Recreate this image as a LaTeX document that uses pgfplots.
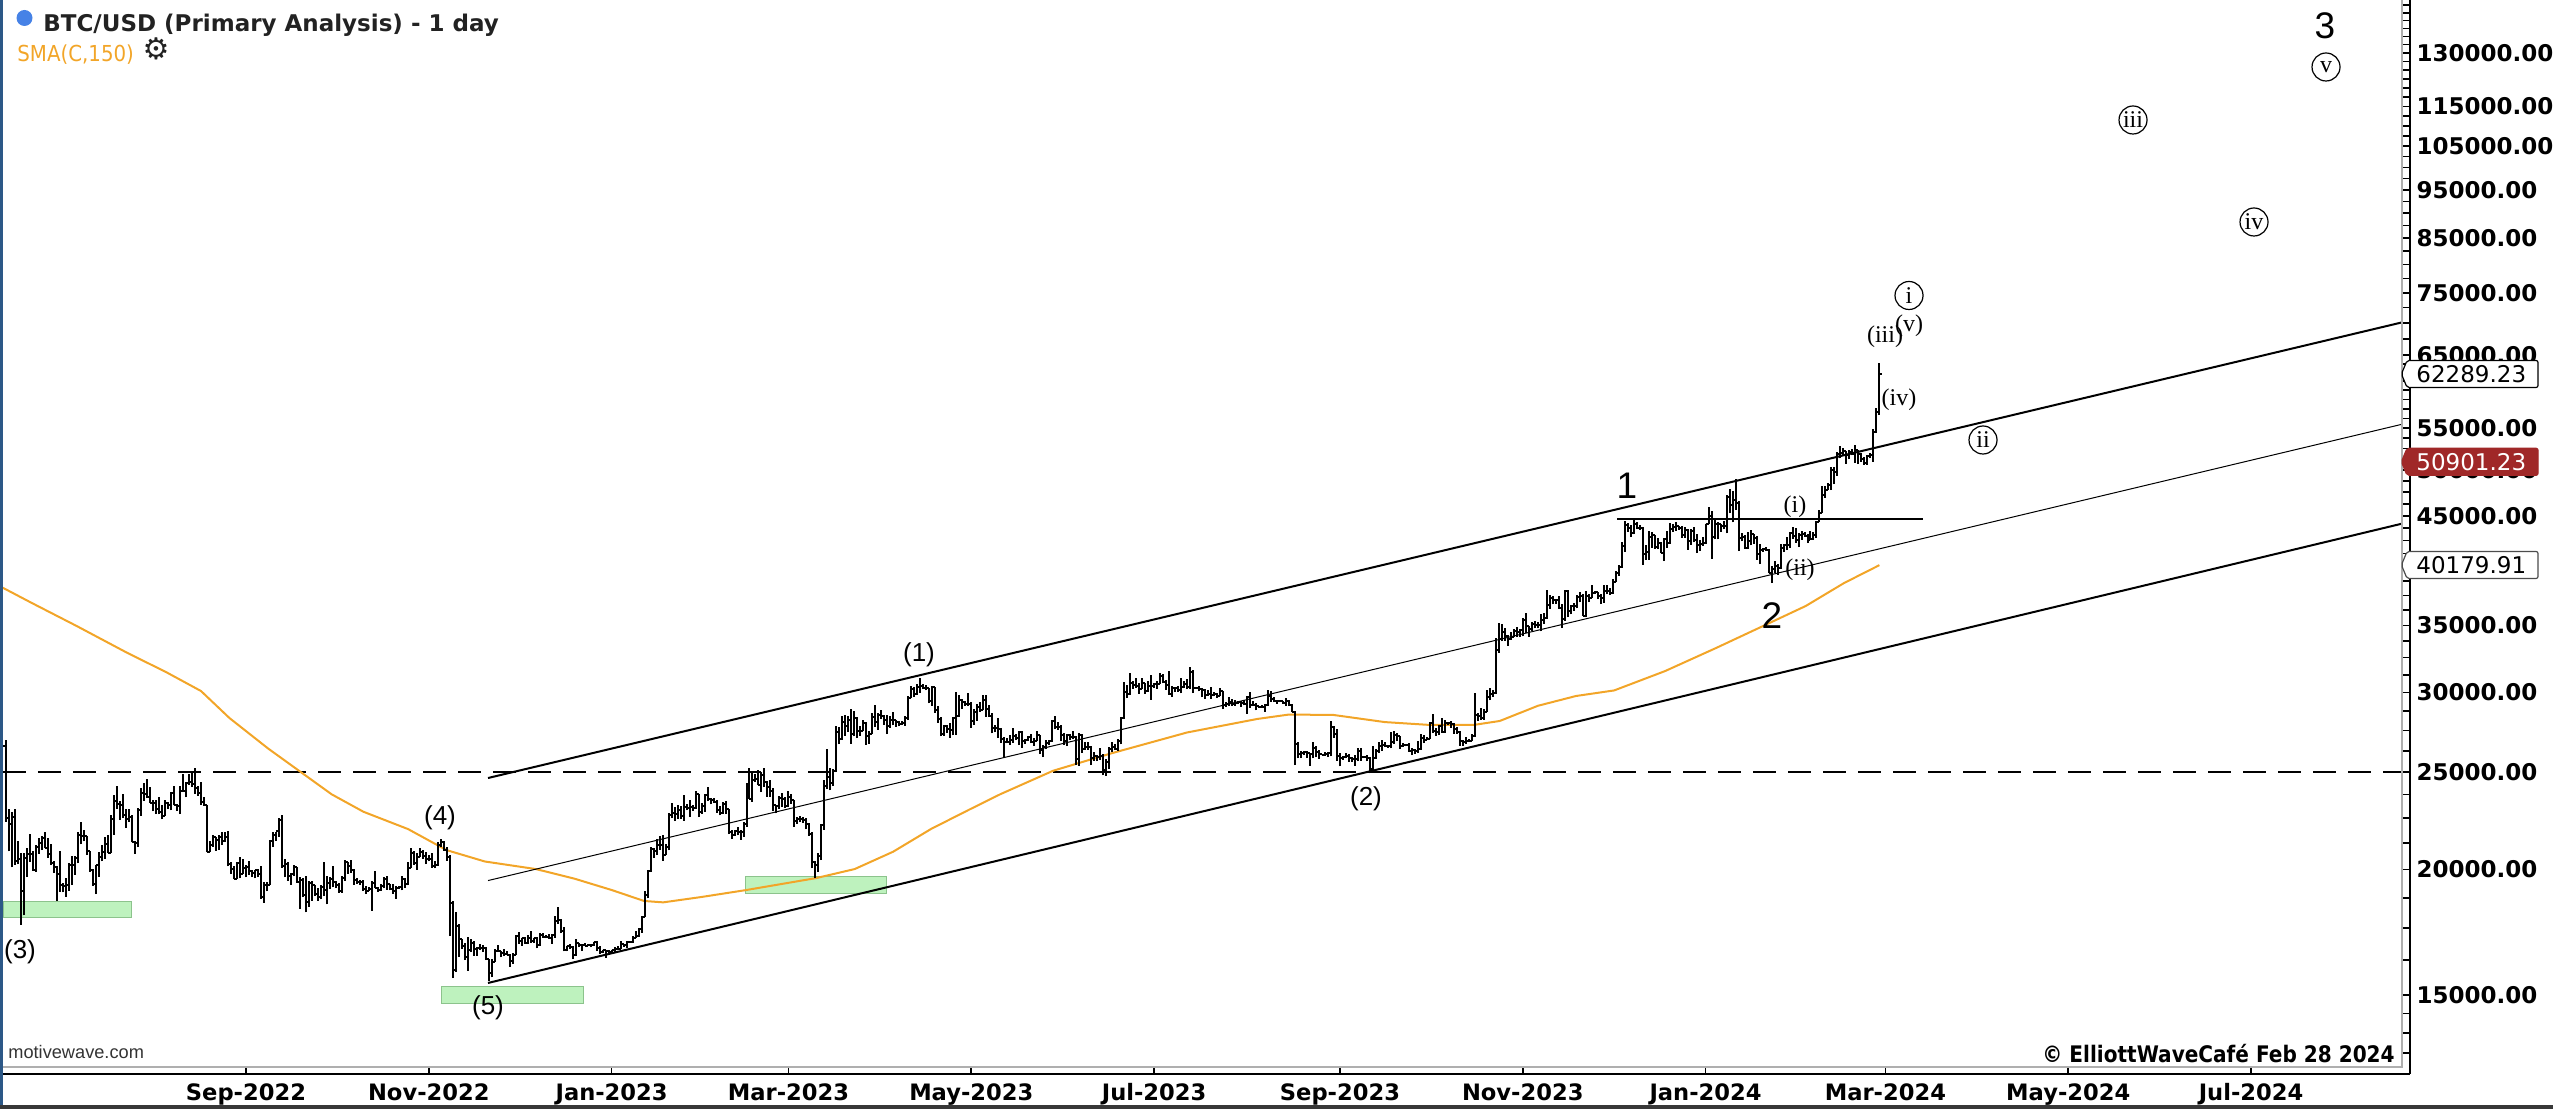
\documentclass[border=0pt]{standalone}
\usepackage{fontspec}
\usepackage{pgfplots}
\usepackage{pgfplotstable}
\pgfplotsset{compat=1.18}
\setmainfont{DejaVu Sans}
\newfontfamily\dvs{DejaVu Sans}
\newfontfamily\dvsn{DejaVu Sans}[FakeStretch=0.9]
\newfontfamily\cafe{DejaVu Sans}[FakeStretch=0.88]
\newfontfamily\arial{Liberation Sans}
\newfontfamily\tnr{Liberation Serif}

\definecolor{smaorange}{RGB}{242,165,40}
\definecolor{boxgreen}{RGB}{190,242,190}
\definecolor{boxgreenline}{RGB}{140,195,140}
\definecolor{pricered}{RGB}{160,40,40}
\definecolor{frameblue}{RGB}{44,88,135}
\definecolor{innergray}{RGB}{175,175,175}
\definecolor{titlegray}{RGB}{34,34,34}
\definecolor{dotblue}{RGB}{70,130,230}

% open / close ticks of an OHLC bar
\pgfdeclareplotmark{tickL}{\pgfpathmoveto{\pgfqpoint{-\pgfplotmarksize}{0pt}}\pgfpathlineto{\pgfqpoint{0pt}{0pt}}\pgfusepathqstroke}
\pgfdeclareplotmark{tickR}{\pgfpathmoveto{\pgfqpoint{0pt}{0pt}}\pgfpathlineto{\pgfqpoint{\pgfplotmarksize}{0pt}}\pgfusepathqstroke}

% daily bars, d = days since 13 Jun 2022, prices in thousands USD
\pgfplotstableread{
d o h l c
0 26.57 26.90 22.32 22.49
1 22.49 23.00 20.85 22.21
2 22.21 22.80 20.10 22.57
3 22.57 22.98 20.23 20.38
4 20.38 21.33 20.25 20.47
5 20.47 20.75 17.62 19.02
6 19.02 20.75 18.00 20.55
7 20.55 21.00 19.66 20.71
8 20.71 21.70 20.35 20.73
9 20.73 20.85 19.95 19.98
10 19.98 21.16 19.89 21.08
11 21.08 21.52 20.74 21.23
12 21.23 21.58 20.91 21.50
13 21.50 21.80 21.00 21.03
14 21.03 21.50 20.55 20.73
15 20.73 21.18 20.20 20.28
16 20.28 20.40 19.85 20.10
17 20.10 20.14 18.63 19.78
18 19.78 20.87 19.00 19.30
19 19.30 19.40 18.98 19.24
20 19.24 19.63 18.79 19.30
21 19.30 20.30 19.06 20.23
22 20.23 20.64 19.30 20.19
23 20.19 20.65 19.77 20.55
24 20.55 21.81 20.28 21.64
25 21.64 22.31 21.19 21.59
26 21.59 21.92 21.33 21.58
27 21.58 21.60 20.67 20.85
28 20.85 20.86 19.90 19.96
29 19.96 20.04 19.26 19.33
30 19.33 20.22 18.91 20.21
31 20.21 20.80 19.67 20.57
32 20.57 21.16 20.38 20.83
33 20.83 21.56 20.48 21.20
34 21.20 21.65 20.76 20.79
35 20.79 22.65 20.76 22.43
36 22.43 23.74 21.66 23.40
37 23.40 24.20 23.00 23.23
38 23.23 23.42 22.40 23.16
39 23.16 23.76 22.52 22.68
40 22.68 22.99 21.99 22.46
41 22.46 23.00 22.30 22.58
42 22.58 22.65 21.28 21.31
43 21.31 21.36 20.74 21.25
44 21.25 23.05 21.05 22.93
45 22.93 24.10 22.60 23.84
46 23.84 24.40 23.40 23.80
47 23.80 24.60 23.55 23.63
48 23.63 24.17 23.30 23.30
49 23.30 23.46 22.85 23.27
50 23.27 23.43 22.70 22.98
51 22.98 23.62 22.69 22.82
52 22.82 23.20 22.43 22.61
53 22.61 23.45 22.59 23.31
54 23.31 23.35 22.99 23.18
55 23.18 23.90 22.90 23.81
56 23.81 24.22 23.16 23.16
57 23.16 23.25 22.87 23.15
58 23.15 24.21 22.70 23.95
59 23.95 24.88 23.90 23.94
60 23.94 24.44 23.60 24.40
61 24.40 24.88 24.30 24.44
62 24.44 25.05 24.16 24.31
63 24.31 25.21 23.78 24.10
64 24.10 24.23 23.69 23.85
65 23.85 24.43 23.20 23.34
66 23.34 23.59 23.14 23.21
67 23.21 23.21 20.81 20.83
68 20.83 21.34 20.80 21.16
69 21.16 21.67 21.06 21.53
70 21.53 21.53 20.89 21.40
71 21.40 21.66 20.91 21.53
72 21.53 21.80 21.15 21.37
73 21.37 21.80 21.32 21.56
74 21.56 21.86 20.14 20.24
75 20.24 20.34 19.80 20.04
76 20.04 20.14 19.55 19.55
77 19.55 20.36 19.55 20.29
78 20.29 20.56 19.60 19.80
79 19.80 20.47 19.79 20.05
80 20.05 20.20 19.65 20.13
81 20.13 20.40 19.77 19.95
82 19.95 19.96 19.66 19.83
83 19.83 20.00 19.60 20.00
84 20.00 20.03 19.64 19.80
85 19.80 20.18 18.69 18.79
86 18.79 19.43 18.54 19.29
87 19.29 19.45 19.02 19.32
88 19.32 21.40 19.30 21.36
89 21.36 21.79 21.05 21.65
90 21.65 21.80 21.35 21.83
91 21.83 22.49 21.56 22.40
92 22.40 22.67 20.07 20.17
93 20.17 20.50 19.64 20.24
94 20.24 20.33 19.50 19.70
95 19.70 19.86 19.32 19.80
96 19.80 20.19 19.70 20.11
97 20.11 20.11 19.40 19.42
98 19.42 19.67 18.27 19.54
99 19.54 19.63 18.76 18.88
100 18.88 19.70 18.13 18.55
101 18.55 19.49 18.37 19.41
102 19.41 19.50 18.61 19.30
103 19.30 19.31 18.82 18.93
104 18.93 19.18 18.63 18.80
105 18.80 19.31 18.68 19.22
106 19.22 20.34 18.82 19.08
107 19.08 19.69 18.47 19.41
108 19.41 19.64 19.13 19.59
109 19.59 20.17 19.20 19.43
110 19.43 19.47 19.16 19.31
111 19.31 19.39 18.97 19.04
112 19.04 19.69 18.96 19.62
113 19.62 20.45 19.50 20.34
114 20.34 20.36 19.80 20.16
115 20.16 20.44 19.85 19.96
116 19.96 20.04 19.32 19.53
117 19.53 19.60 19.36 19.42
118 19.42 19.52 19.32 19.44
119 19.44 19.51 19.03 19.13
120 19.13 19.26 18.90 19.06
121 19.06 19.21 19.02 19.15
122 19.15 19.50 18.19 19.37
123 19.37 19.93 19.16 19.18
124 19.18 19.21 19.00 19.07
125 19.07 19.36 19.06 19.26
126 19.26 19.67 19.16 19.55
127 19.55 19.70 19.10 19.33
128 19.33 19.35 19.07 19.13
129 19.13 19.33 18.93 19.05
130 19.05 19.25 18.70 19.17
131 19.17 19.25 19.13 19.20
132 19.20 19.69 19.07 19.57
133 19.57 19.60 19.16 19.33
134 19.33 20.34 19.29 20.09
135 20.09 21.00 20.06 20.77
136 20.77 20.85 20.22 20.29
137 20.29 20.75 20.00 20.60
138 20.60 21.03 20.56 20.81
139 20.81 20.92 20.50 20.63
140 20.63 20.83 20.25 20.49
141 20.49 20.67 20.37 20.48
142 20.48 20.79 20.07 20.15
143 20.15 20.39 20.05 20.21
144 20.21 21.30 20.18 21.15
145 21.15 21.47 21.07 21.30
146 21.30 21.36 20.89 20.91
147 20.91 21.05 20.40 20.60
148 20.60 20.67 17.17 18.54
149 18.54 18.59 15.59 15.88
150 15.88 18.13 15.82 17.59
151 17.59 17.66 16.36 17.04
152 17.04 17.07 16.66 16.80
153 16.80 16.90 16.25 16.35
154 16.35 17.12 15.85 16.62
155 16.62 17.05 16.55 16.90
156 16.90 16.96 16.41 16.66
157 16.66 16.73 16.42 16.69
158 16.69 16.87 16.64 16.70
159 16.70 16.81 16.55 16.70
160 16.70 16.74 16.25 16.28
161 16.28 16.30 15.48 15.78
162 15.78 16.28 15.62 16.19
163 16.19 16.67 16.17 16.61
164 16.61 16.81 16.55 16.60
165 16.60 16.61 16.35 16.52
166 16.52 16.67 16.40 16.46
167 16.46 16.59 16.43 16.44
168 16.44 16.48 16.00 16.22
169 16.22 16.53 16.11 16.44
170 16.44 17.20 16.43 17.17
171 17.17 17.32 16.86 16.97
172 16.97 17.10 16.79 17.09
173 17.09 17.15 16.88 16.89
174 16.89 17.20 16.88 17.11
175 17.11 17.38 16.91 16.97
176 16.97 17.10 16.91 17.09
177 17.09 17.13 16.69 16.84
178 16.84 17.30 16.78 17.22
179 17.22 17.30 17.11 17.13
180 17.13 17.23 17.09 17.13
181 17.13 17.27 17.07 17.09
182 17.09 17.24 16.87 17.21
183 17.21 17.97 17.10 17.78
184 17.78 18.37 17.66 17.81
185 17.81 17.85 17.28 17.36
186 17.36 17.53 16.58 16.63
187 16.63 16.80 16.58 16.78
188 16.78 16.86 16.68 16.74
189 16.74 16.80 16.29 16.44
190 16.44 17.04 16.40 16.90
191 16.90 16.91 16.73 16.82
192 16.82 16.87 16.59 16.83
193 16.83 16.91 16.78 16.78
194 16.78 16.87 16.77 16.84
195 16.84 16.86 16.73 16.83
196 16.83 16.94 16.79 16.92
197 16.92 16.96 16.59 16.71
198 16.71 16.78 16.47 16.55
199 16.55 16.65 16.51 16.63
200 16.63 16.63 16.33 16.60
201 16.60 16.63 16.48 16.54
202 16.54 16.63 16.50 16.62
203 16.62 16.76 16.57 16.67
204 16.67 16.78 16.62 16.67
205 16.67 16.99 16.66 16.85
206 16.85 16.88 16.75 16.83
207 16.83 16.99 16.71 16.95
208 16.95 16.97 16.91 16.94
209 16.94 17.18 16.91 17.09
210 17.09 17.39 17.08 17.19
211 17.19 17.48 17.14 17.44
212 17.44 17.99 17.31 17.94
213 17.94 19.05 17.93 18.85
214 18.85 19.96 18.72 19.93
215 19.93 21.08 19.89 20.95
216 20.95 21.00 20.55 20.87
217 20.87 21.43 20.67 21.17
218 21.17 21.62 20.92 21.16
219 21.16 21.63 20.41 20.69
220 20.69 21.19 20.67 21.08
221 21.08 22.74 20.90 22.68
222 22.68 23.28 22.50 22.78
223 22.78 23.06 22.34 22.71
224 22.71 23.16 22.48 22.93
225 22.93 23.15 22.46 22.63
226 22.63 23.74 22.37 23.06
227 23.06 23.22 22.90 23.01
228 23.01 23.48 22.56 23.08
229 23.08 23.16 22.89 23.03
230 23.03 23.92 23.00 23.77
231 23.77 23.79 22.55 22.84
232 22.84 23.30 22.72 23.14
233 23.14 23.76 22.82 23.72
234 23.72 24.17 23.39 23.49
235 23.49 23.58 23.22 23.43
236 23.43 23.57 23.29 23.33
237 23.33 23.43 22.77 22.94
238 22.94 23.14 22.64 22.76
239 22.76 23.34 22.73 23.26
240 23.26 23.42 22.70 22.96
241 22.96 22.99 21.69 21.80
242 21.80 21.90 21.46 21.63
243 21.63 21.89 21.62 21.86
244 21.86 22.06 21.63 21.78
245 21.78 21.88 21.40 21.79
246 21.79 22.30 21.55 22.20
247 22.20 24.37 22.05 24.33
248 24.33 25.25 23.51 23.52
249 23.52 24.97 23.36 24.57
250 24.57 24.87 24.45 24.63
251 24.63 25.12 24.26 24.28
252 24.28 25.00 23.88 24.84
253 24.84 25.25 24.15 24.44
254 24.44 24.47 23.63 24.19
255 24.19 24.58 23.64 23.95
256 23.95 24.13 22.86 23.19
257 23.19 23.20 22.75 23.15
258 23.15 23.68 22.99 23.55
259 23.55 23.86 23.08 23.49
260 23.49 23.60 23.03 23.13
261 23.13 23.95 23.10 23.63
262 23.63 23.77 23.24 23.47
263 23.47 23.48 22.07 22.35
264 22.35 22.54 22.20 22.43
265 22.43 22.63 22.30 22.43
266 22.43 22.56 22.27 22.41
267 22.41 22.53 21.93 22.20
268 22.20 22.27 21.60 21.71
269 21.71 21.80 20.05 20.36
270 20.36 20.37 19.61 20.19
271 20.19 20.79 19.88 20.63
272 20.63 22.19 20.43 22.16
273 22.16 24.55 21.92 24.20
274 24.20 26.39 24.08 24.75
275 24.75 25.24 23.98 24.38
276 24.38 25.17 24.22 25.05
277 25.05 27.76 25.00 27.42
278 27.42 27.72 26.65 26.97
279 26.97 28.42 26.92 28.04
280 28.04 28.48 27.17 27.77
281 27.77 28.45 27.40 28.17
282 28.17 28.87 26.68 27.31
283 27.31 28.75 27.13 28.33
284 28.33 28.36 27.02 27.49
285 27.49 27.78 27.17 27.49
286 27.49 28.19 27.45 27.99
287 27.99 28.04 26.63 27.14
288 27.14 27.49 26.67 27.27
289 27.27 28.64 27.26 28.35
290 28.35 29.16 27.72 28.03
291 28.03 28.64 27.56 28.48
292 28.48 28.80 28.27 28.45
293 28.45 28.53 27.87 28.20
294 28.20 28.49 27.28 27.79
295 27.79 28.43 27.67 28.17
296 28.17 28.68 27.83 28.17
297 28.17 28.18 27.74 28.03
298 28.03 28.10 27.77 27.92
299 27.92 28.14 27.87 27.95
300 27.95 28.46 27.81 28.33
301 28.33 29.77 28.17 29.65
302 29.65 30.47 29.61 30.24
303 30.24 30.40 29.71 29.90
304 29.90 30.60 29.87 30.40
305 30.40 31.00 30.00 30.48
306 30.48 30.61 30.23 30.32
307 30.32 30.55 30.16 30.31
308 30.31 30.31 29.27 29.43
309 29.43 30.47 29.10 30.39
310 30.39 30.41 28.66 28.82
311 28.82 29.08 28.01 28.25
312 28.25 28.35 27.14 27.27
313 27.27 27.87 27.18 27.82
314 27.82 27.84 27.36 27.59
315 27.59 28.00 27.04 27.51
316 27.51 28.37 27.20 28.30
317 28.30 30.02 27.25 28.42
318 28.42 29.87 28.40 29.47
319 29.47 29.57 28.88 29.34
320 29.34 29.45 29.09 29.25
321 29.25 29.95 29.08 29.23
322 29.23 29.33 27.68 28.09
323 28.09 28.88 27.87 28.68
324 28.68 29.26 28.13 29.03
325 29.03 29.37 28.70 28.85
326 28.85 29.84 28.82 29.53
327 29.53 29.82 28.38 28.90
328 28.90 29.16 28.40 28.45
329 28.45 28.63 27.32 27.69
330 27.69 27.83 27.38 27.65
331 27.65 28.32 27.06 27.62
332 27.62 27.64 26.75 26.99
333 26.99 27.08 25.87 26.81
334 26.81 27.03 26.70 26.78
335 26.78 27.20 26.59 26.93
336 26.93 27.65 26.74 27.19
337 27.19 27.27 26.90 27.03
338 27.03 27.48 26.59 27.40
339 27.40 27.47 26.45 26.83
340 26.83 26.99 26.69 26.89
341 26.89 27.16 26.85 27.12
342 27.12 27.27 26.70 26.76
343 26.76 27.05 26.55 26.86
344 26.86 27.48 26.83 27.23
345 27.23 27.23 26.09 26.33
346 26.33 26.62 25.88 26.48
347 26.48 26.93 26.34 26.72
348 26.72 26.89 26.62 26.87
349 26.87 28.19 26.80 28.09
350 28.09 28.43 27.58 27.75
351 27.75 28.04 27.56 27.70
352 27.70 27.83 26.87 27.22
353 27.22 27.35 26.61 26.82
354 26.82 27.30 26.53 27.25
355 27.25 27.31 26.92 27.07
356 27.07 27.45 26.96 27.12
357 27.12 27.13 25.40 25.76
358 25.76 27.34 25.38 27.24
359 27.24 27.26 26.15 26.35
360 26.35 26.78 26.31 26.50
361 26.50 26.79 26.32 26.48
362 26.48 26.53 25.40 25.85
363 25.85 26.20 25.66 25.94
364 25.94 26.00 25.64 25.90
365 25.90 26.40 25.73 25.92
366 25.92 26.06 24.82 25.12
367 25.12 25.75 24.79 25.58
368 25.58 26.48 25.19 26.34
369 26.34 26.76 26.18 26.51
370 26.51 26.67 26.29 26.34
371 26.34 26.98 26.26 26.85
372 26.85 28.39 26.65 28.33
373 28.33 30.76 28.27 30.03
374 30.03 30.50 29.62 29.91
375 29.91 31.39 29.82 30.70
376 30.70 30.80 30.27 30.55
377 30.55 31.04 30.33 30.47
378 30.47 30.66 29.93 30.27
379 30.27 31.01 30.23 30.70
380 30.70 30.70 29.93 30.08
381 30.08 30.82 30.05 30.45
382 30.45 31.26 29.51 30.48
383 30.48 30.66 30.33 30.59
384 30.59 30.79 30.26 30.62
385 30.62 31.38 30.57 31.16
386 31.16 31.32 30.65 30.77
387 30.77 30.88 30.21 30.51
388 30.51 31.50 29.85 29.91
389 29.91 30.45 29.70 30.35
390 30.35 30.38 30.04 30.29
391 30.29 30.43 30.07 30.17
392 30.17 31.02 29.95 30.41
393 30.41 30.79 30.30 30.62
394 30.62 30.96 30.23 30.39
395 30.39 31.80 30.26 31.48
396 31.48 31.63 29.97 30.33
397 30.33 30.39 30.25 30.30
398 30.30 30.44 30.08 30.25
399 30.25 30.34 29.67 30.15
400 30.15 30.24 29.55 29.86
401 29.86 30.19 29.77 29.92
402 29.92 30.40 29.57 29.81
403 29.81 30.05 29.74 29.91
404 29.91 29.99 29.64 29.80
405 29.80 30.34 29.74 30.09
406 30.09 30.10 28.88 29.18
407 29.18 29.33 29.06 29.23
408 29.23 29.67 29.10 29.35
409 29.35 29.56 29.10 29.22
410 29.22 29.53 29.12 29.32
411 29.32 29.41 29.26 29.36
412 29.36 29.45 29.03 29.28
413 29.28 29.49 29.13 29.23
414 29.23 29.74 28.59 29.70
415 29.70 30.04 28.97 29.18
416 29.18 29.40 29.10 29.18
417 29.18 29.30 28.80 29.07
418 29.07 29.10 28.96 29.04
419 29.04 29.16 28.96 29.04
420 29.04 29.23 28.70 29.18
421 29.18 30.17 29.11 29.77
422 29.77 30.09 29.38 29.58
423 29.58 29.68 29.35 29.44
424 29.44 29.53 29.26 29.40
425 29.40 29.47 29.36 29.42
426 29.42 29.45 29.26 29.29
427 29.29 29.66 29.08 29.41
428 29.41 29.47 29.08 29.17
429 29.17 29.22 28.70 28.70
430 28.70 28.76 25.41 26.66
431 26.66 26.80 25.80 26.05
432 26.05 26.26 25.81 26.10
433 26.10 26.26 26.01 26.19
434 26.19 26.26 25.82 26.12
435 26.12 26.13 25.36 26.04
436 26.04 26.78 25.80 26.43
437 26.43 26.55 25.86 26.17
438 26.17 26.30 25.78 26.05
439 26.05 26.09 25.98 26.01
440 26.01 26.17 25.97 26.09
441 26.09 26.20 25.88 26.10
442 26.10 28.14 25.92 27.73
443 27.73 27.76 27.05 27.30
444 27.30 27.57 25.66 25.93
445 25.93 26.13 25.33 25.80
446 25.80 25.97 25.73 25.87
447 25.87 26.13 25.80 25.97
448 25.97 26.09 25.61 25.83
449 25.83 25.88 25.59 25.79
450 25.79 26.00 25.38 25.75
451 25.75 26.41 25.62 26.24
452 26.24 26.43 25.66 25.91
453 25.91 25.94 25.81 25.90
454 25.90 26.00 25.62 25.83
455 25.83 25.88 24.93 25.16
456 25.16 26.54 25.13 25.84
457 25.84 26.39 25.77 26.22
458 26.22 26.81 26.13 26.53
459 26.53 26.89 26.23 26.60
460 26.60 26.77 26.47 26.57
461 26.57 26.62 26.44 26.53
462 26.53 27.41 26.40 26.76
463 26.76 27.47 26.67 27.21
464 27.21 27.37 26.84 27.13
465 27.13 27.16 26.38 26.57
466 26.57 26.72 26.48 26.58
467 26.58 26.63 26.52 26.58
468 26.58 26.72 26.21 26.25
469 26.25 26.42 26.00 26.30
470 26.30 26.39 26.09 26.22
471 26.22 26.82 26.12 26.35
472 26.35 27.29 26.32 27.02
473 27.02 27.22 26.72 26.91
474 26.91 27.09 26.90 26.97
475 26.97 28.05 26.95 27.99
476 27.99 28.58 27.34 27.50
477 27.50 27.66 27.17 27.43
478 27.43 27.83 27.22 27.79
479 27.79 28.29 27.36 27.42
480 27.42 28.18 27.35 27.95
481 27.95 28.02 27.86 27.97
482 27.97 28.10 27.69 27.94
483 27.94 27.99 27.30 27.59
484 27.59 27.73 27.30 27.39
485 27.39 27.48 26.56 26.87
486 26.87 26.94 26.56 26.76
487 26.76 27.10 26.69 26.86
488 26.86 26.95 26.82 26.86
489 26.86 27.29 26.84 27.16
490 27.16 30.00 27.12 28.52
491 28.52 28.61 28.11 28.42
492 28.42 28.97 28.16 28.33
493 28.33 28.89 28.18 28.72
494 28.72 30.21 28.68 29.68
495 29.68 30.34 29.48 29.92
496 29.92 30.19 29.71 29.99
497 29.99 34.00 29.92 33.09
498 33.09 35.20 32.88 33.90
499 33.90 35.10 33.74 34.50
500 34.50 34.82 33.80 34.16
501 34.16 34.24 33.39 33.91
502 33.91 34.48 33.86 34.09
503 34.09 34.73 34.05 34.54
504 34.54 34.85 34.10 34.50
505 34.50 34.72 34.07 34.67
506 34.67 35.57 34.12 35.44
507 35.44 35.98 34.40 34.94
508 34.94 34.94 34.10 34.73
509 34.73 35.26 34.59 35.08
510 35.08 35.38 34.76 35.05
511 35.05 35.28 34.75 35.04
512 35.04 35.89 34.52 35.42
513 35.42 35.98 35.12 35.63
514 35.63 37.93 35.54 36.70
515 36.70 37.52 36.34 37.31
516 37.31 37.41 36.73 37.13
517 37.13 37.22 36.76 37.07
518 37.07 37.41 36.35 36.46
519 36.46 36.74 34.78 35.55
520 35.55 37.93 35.37 37.88
521 37.88 37.93 35.67 36.15
522 36.15 36.70 35.90 36.59
523 36.59 36.85 36.20 36.57
524 36.57 37.49 36.40 37.36
525 37.36 37.75 36.90 37.45
526 37.45 37.65 35.76 35.80
527 35.80 37.83 35.66 37.42
528 37.42 37.62 36.90 37.29
529 37.29 38.42 37.26 37.72
530 37.72 37.89 37.62 37.80
531 37.80 37.82 37.17 37.48
532 37.48 37.58 36.75 37.25
533 37.25 38.37 36.87 37.83
534 37.83 38.42 37.58 37.86
535 37.86 38.15 37.51 37.71
536 37.71 38.97 37.63 38.69
537 38.69 39.68 38.64 39.46
538 39.46 40.18 39.24 39.98
539 39.98 42.41 39.94 41.98
540 41.98 44.41 41.41 44.08
541 44.08 44.27 43.37 43.77
542 43.77 44.04 42.84 43.29
543 43.29 44.70 43.11 44.17
544 44.17 44.35 43.61 43.72
545 43.72 44.03 43.58 43.79
546 43.79 43.81 40.22 41.24
547 41.24 42.05 40.68 41.45
548 41.45 43.43 40.67 42.89
549 42.89 43.40 41.82 43.02
550 43.02 43.09 41.72 41.93
551 41.93 42.72 41.70 42.24
552 42.24 42.33 41.28 41.36
553 41.36 42.73 40.56 42.66
554 42.66 43.43 41.83 42.26
555 42.26 44.28 42.18 43.65
556 43.65 44.20 43.36 43.87
557 43.87 44.37 43.46 43.99
558 43.99 44.00 43.58 43.72
559 43.72 43.93 42.80 43.01
560 43.01 43.80 42.78 43.58
561 43.58 43.60 41.64 42.51
562 42.51 43.68 42.11 43.44
563 43.44 43.80 42.34 42.58
564 42.58 43.12 41.30 42.07
565 42.07 42.60 41.52 42.14
566 42.14 42.89 41.99 42.28
567 42.28 44.18 42.19 44.18
568 44.18 45.90 44.15 44.96
569 44.96 45.50 40.75 42.85
570 42.85 44.73 42.63 44.18
571 44.18 44.34 42.63 44.16
572 44.16 44.19 43.39 43.97
573 43.97 44.50 43.63 43.93
574 43.93 47.20 43.21 46.97
575 46.97 47.89 45.24 46.12
576 46.12 47.65 44.33 46.65
577 46.65 48.97 45.61 46.34
578 46.34 46.49 41.50 42.78
579 42.78 43.25 42.44 42.84
580 42.84 43.07 41.72 41.80
581 41.80 43.32 41.72 42.51
582 42.51 43.55 42.05 43.15
583 43.15 43.19 42.20 42.74
584 42.74 42.93 40.68 41.26
585 41.26 42.13 40.28 41.62
586 41.62 41.82 41.45 41.66
587 41.66 41.87 41.50 41.58
588 41.58 41.65 39.43 39.51
589 39.51 40.13 38.56 39.85
590 39.85 40.52 39.50 40.08
591 40.08 40.28 39.33 39.94
592 39.94 42.21 39.83 41.80
593 41.80 42.20 41.39 42.12
594 42.12 42.84 41.62 42.03
595 42.03 43.31 41.80 43.30
596 43.30 43.84 42.68 42.94
597 42.94 43.72 42.31 42.56
598 42.56 43.27 41.88 43.08
599 43.08 43.42 42.58 43.19
600 43.19 43.38 42.88 43.00
601 43.00 43.12 42.26 42.58
602 42.58 43.49 42.55 42.66
603 42.66 43.39 42.60 43.09
604 43.09 44.48 42.77 44.34
605 44.34 45.59 44.33 45.30
606 45.30 48.16 45.24 47.15
607 47.15 48.20 46.88 47.77
608 47.77 48.54 47.70 48.29
609 48.29 50.28 47.73 49.96
610 49.96 50.36 48.37 49.74
611 49.74 52.04 49.30 51.83
612 51.83 52.82 51.32 51.94
613 51.94 52.57 51.58 52.16
614 52.16 52.16 50.67 51.66
615 51.66 52.35 51.20 52.12
616 52.12 52.49 51.68 51.78
617 51.78 52.96 50.79 52.28
618 52.28 52.37 50.66 51.84
619 51.84 52.00 50.95 51.30
620 51.30 51.54 50.56 50.73
621 50.73 51.68 50.59 51.57
622 51.57 51.94 51.32 51.73
623 51.73 54.94 50.90 54.52
624 54.52 57.54 54.45 57.09
625 57.09 63.91 56.71 62.29
}\ohlc

% SMA(C,150)
\pgfplotstableread{
d v
-1.1 38.15
8.6 36.84
23.5 34.95
40.5 32.85
53.3 31.45
65.0 30.11
74.5 28.30
87.4 26.39
98.0 25.04
108.6 23.76
119.2 22.83
134.1 21.94
146.9 20.91
159.7 20.37
176.7 20.02
189.5 19.59
202.1 19.08
212.8 18.61
219.2 18.55
232.0 18.78
246.8 19.08
270.2 19.61
283.1 20.02
295.9 20.83
308.6 21.95
321.3 22.94
331.6 23.76
349.3 25.08
368.5 26.09
394.0 27.38
417.4 28.24
428.0 28.53
442.9 28.50
460.0 28.04
474.7 27.86
489.7 27.86
498.3 28.11
511.1 29.11
523.8 29.77
536.5 30.15
553.5 31.52
570.5 33.23
585.5 34.87
600.4 36.59
613.2 38.57
625.0 40.18
}\sma

% price tag on the right axis: y (px), fill, border, text colour, text
\newcommand{\pricetag}[5]{%
  \filldraw[fill=#2, draw=#3, line width=0.6pt, rounded corners=1pt]
    (2401.4,#1) -- (2407,#1-13.5) -- (2538,#1-13.5) -- (2538,#1+13.5) -- (2407,#1+13.5) -- cycle;
  \node[anchor=west, inner sep=0pt, text=#4, font=\dvs\fontsize{11.5}{13}\selectfont] at (2416,#1) {#5};}

\newcommand{\wave}[3]{\node[inner sep=0pt, font=#1] at (#2) {#3};}
\newcommand{\circled}[2]{\node[circle, draw, line width=0.6pt, inner sep=0pt, minimum size=14pt,
  font=\tnr\fontsize{12}{14}\selectfont] at (#1) {#2};}

\begin{document}
\begin{tikzpicture}
\path[use as bounding box] (0,0) rectangle (1276.5pt,554.5pt);

% pixel frame of the screenshot: x right, y down
\begin{scope}[x=0.5pt, y=-0.5pt, shift={(0pt,554.5pt)}]
  \filldraw[fill=boxgreen, draw=boxgreenline, line width=0.5pt] (3,901) rectangle (131,917);
  \filldraw[fill=boxgreen, draw=boxgreenline, line width=0.5pt] (441,986.5) rectangle (583.5,1003);
  \filldraw[fill=boxgreen, draw=boxgreenline, line width=0.5pt] (745,876.7) rectangle (886.5,893.2);
\end{scope}

\begin{axis}[
    at={(1.5pt,17.5pt)}, anchor=south west,
    scale only axis, width=1203.5pt, height=537pt,
    ymode=log,
    xmin=-1.068, xmax=802.07,
    ymin=12.516, ymax=146.76,
    axis x line*=bottom, axis y line*=right,
    axis line style={black, line width=1pt},
    tick align=inside,
    major tick length=4pt, minor tick length=4pt,
    tick style={black, line width=0.8pt},
    xtick={80,141,202,261,322,383,445,506,567,627,688,749},
    xticklabels={Sep-2022,Nov-2022,Jan-2023,Mar-2023,May-2023,Jul-2023,
                 Sep-2023,Nov-2023,Jan-2024,Mar-2024,May-2024,Jul-2024},
    ytick={15,20,25,30,35,40,45,50,55,65,75,85,95,105,115,130},
    yticklabels={15000.00,20000.00,25000.00,30000.00,35000.00,40000.00,45000.00,50000.00,
                 55000.00,65000.00,75000.00,85000.00,95000.00,105000.00,115000.00,130000.00},
    minor ytick={13.125,13.75,14.375,16.25,17.5,18.75,21.25,22.5,23.75,26.25,27.5,28.75,
                 31.25,32.5,33.75,36.25,37.5,38.75,41.25,42.5,43.75,46.25,47.5,48.75,
                 51.25,52.5,53.75,56.25,57.5,58.75,60,61.25,62.5,63.75,67.5,70,72.5,
                 77.5,80,82.5,87.5,90,92.5,97.5,100,102.5,107.5,110,112.5,117.5,120,
                 122.5,125,127.5,132.5,135,137.5,140,142.5,145},
    xticklabel style={font=\dvs\bfseries\fontsize{11.3}{13}\selectfont,
                      anchor=base, inner sep=0pt, yshift=-13.25pt},
    yticklabel style={font=\dvs\bfseries\fontsize{11.5}{13}\selectfont,
                      anchor=west, inner sep=0pt, xshift=3pt},
    clip=true,
]

% 25000 level
\draw[black, line width=0.8pt, dash pattern=on 11.5pt off 6pt]
    (axis cs:-1.068,25) -- (axis cs:799.4,25);

% SMA(C,150)
\addplot[smaorange, line width=1pt, mark=none] table[x=d, y=v] {\sma};

% OHLC bars: high-low range, then open and close ticks
\addplot[draw=none, mark=none,
    error bars/.cd, y dir=plus, y explicit, error mark=none,
    error bar style={draw=black, solid, line width=1pt}]
    table[x=d, y=l, y error plus expr=\thisrow{h}-\thisrow{l}] {\ohlc};
\addplot[draw=none, mark=tickL, mark size=1.4pt, mark options={draw=black, solid, line width=1pt}]
    table[x=d, y=o] {\ohlc};
\addplot[draw=none, mark=tickR, mark size=1.4pt, mark options={draw=black, solid, line width=1pt}]
    table[x=d, y=c] {\ohlc};

% channel from the (5) low
\draw[black, line width=1pt]   (axis cs:160.76,24.666) -- (axis cs:799.4,70.10);
\draw[black, line width=0.5pt] (axis cs:160.76,19.50)  -- (axis cs:799.4,55.50);
\draw[black, line width=1pt]   (axis cs:160.76,15.42)  -- (axis cs:799.4,44.19);
% wave 1 level
\draw[black, line width=0.8pt] (axis cs:537.5,44.67) -- (axis cs:639.6,44.67);
\end{axis}

\begin{scope}[x=0.5pt, y=-0.5pt, shift={(0pt,554.5pt)}]
  % inner grey border of the plot area
  \draw[innergray, line width=1pt] (3,1067) -- (2402,1067) -- (2402,0);

  % wave labels
  \wave{\arial\fontsize{13}{15}\selectfont}{20,952}{(3)}
  \wave{\arial\fontsize{13}{15}\selectfont}{440,818}{(4)}
  \wave{\arial\fontsize{13}{15}\selectfont}{488,1008}{(5)}
  \wave{\arial\fontsize{13}{15}\selectfont}{919,655}{(1)}
  \wave{\arial\fontsize{13}{15}\selectfont}{1366,799}{(2)}
  \wave{\arial\fontsize{18.5}{20}\selectfont}{1627,486}{1}
  \wave{\arial\fontsize{18.5}{20}\selectfont}{1772,616}{2}
  \wave{\arial\fontsize{18.5}{20}\selectfont}{2325,26}{3}
  \wave{\tnr\fontsize{12}{14}\selectfont}{1795,507}{(i)}
  \wave{\tnr\fontsize{12}{14}\selectfont}{1800,570}{(ii)}
  \wave{\tnr\fontsize{12}{14}\selectfont}{1885,337}{(iii)}
  \wave{\tnr\fontsize{12}{14}\selectfont}{1899,400}{(iv)}
  \wave{\tnr\fontsize{12}{14}\selectfont}{1909,326}{(v)}
  \circled{1909,295.5}{i}
  \circled{1983,440}{ii}
  \circled{2133,120}{iii}
  \circled{2254,222}{iv}
  \circled{2326,67}{v}

  % price tags
  \pricetag{374}{white}{black}{black}{62289.23}
  \pricetag{461.8}{pricered}{pricered}{white}{50901.23}
  \pricetag{565}{white}{black!70}{black}{40179.91}

  % header
  \fill[dotblue] (24.5,18) circle (4pt);
  \node[anchor=base west, inner sep=0pt, text=titlegray,
        font=\dvs\bfseries\fontsize{11.5}{13}\selectfont] at (43,32) {BTC/USD (Primary Analysis) - 1 day};
  \node[anchor=base west, inner sep=0pt, text=smaorange,
        font=\dvsn\fontsize{11}{13}\selectfont] at (17,62) {SMA(C,150)};
  \node[inner sep=0pt, text=titlegray, font=\dvs\bfseries\fontsize{15}{17}\selectfont] at (156,49) {⚙};

  % footer texts
  \node[anchor=base west, inner sep=0pt, text=black!80,
        font=\arial\fontsize{9.1}{11}\selectfont] at (8,1058) {motivewave.com};
  \node[anchor=base east, inner sep=0pt,
        font=\cafe\bfseries\fontsize{11.4}{13}\selectfont] at (2395,1062) {© ElliottWaveCafé Feb 28 2024};

  % screenshot frame
  \fill[frameblue] (0,0) rectangle (2.5,1105);
  \fill[black!78] (0,1105) rectangle (2553,1109);
\end{scope}
\end{tikzpicture}
\end{document}
